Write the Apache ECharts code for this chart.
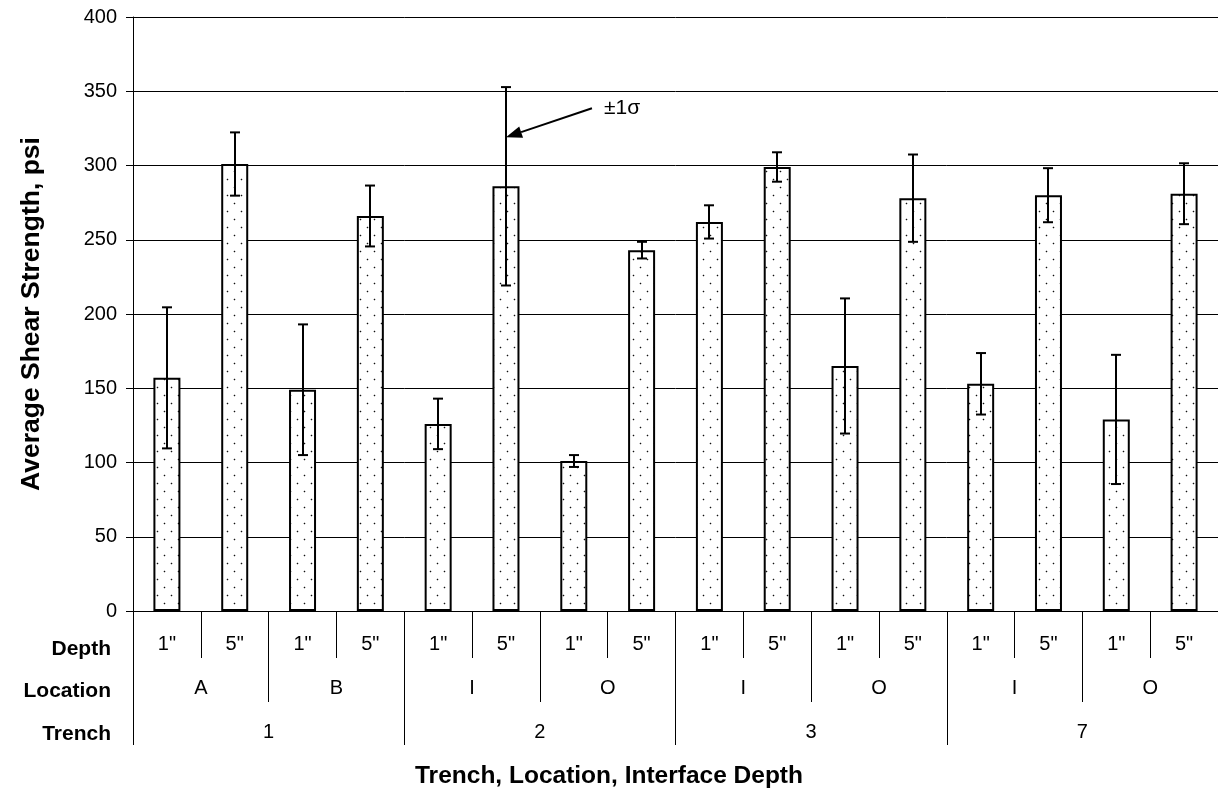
<!DOCTYPE html>
<html>
<head>
<meta charset="utf-8">
<script src="https://cdn.jsdelivr.net/npm/echarts@6/dist/echarts.min.js"></script>
<style>
html,body{margin:0;padding:0;background:#fff;}
#chart{width:1218px;height:794px;}
</style>
</head>
<body>
<div id="chart"></div>
<script>
// ---- data ----
const depths = ['1"','5"','1"','5"','1"','5"','1"','5"','1"','5"','1"','5"','1"','5"','1"','5"'];
const locations = ['A','B','I','O','I','O','I','O'];
const trenches = ['1','2','3','7'];
const means = [157, 301, 149, 266, 126, 286, 101, 243, 262, 299, 165, 278, 153, 280, 129, 281];
const sds = [47.5, 21.3, 44, 20.5, 17, 66.8, 4, 5.6, 11.2, 9.9, 45.5, 29.4, 20.7, 18.2, 43.5, 20.5];
const yTicks = {min: 0, max: 400, interval: 50};
const annotation = {text: '\u00b11\u03c3', index: 5, value: 319};

// ---- dotted fill pattern ----
const pc = document.createElement('canvas');
pc.width = 14; pc.height = 16;
const pctx = pc.getContext('2d');
pctx.fillStyle = '#fff';
pctx.fillRect(0, 0, 14, 16);
function dot(x, y) {
  pctx.fillStyle = '#c8c8c8';
  pctx.fillRect(x - 1, y, 1, 1); pctx.fillRect(x + 1, y, 1, 1);
  pctx.fillRect(x, y - 1, 1, 1); pctx.fillRect(x, y + 1, 1, 1);
  pctx.fillStyle = '#111';
  pctx.fillRect(x, y, 1, 1);
}
dot(3, 3);
dot(10, 11);

const FONT = '"Liberation Sans", Arial, sans-serif';
const errData = means.map((m, i) => [i, m - sds[i], m + sds[i]]);

const chart = echarts.init(document.getElementById('chart'));
const option = {
  animation: false,
  backgroundColor: '#fff',
  title: {
    text: 'Trench, Location, Interface Depth',
    left: 'center', top: 759,
    textStyle: {fontFamily: FONT, fontSize: 24.5, fontWeight: 'bold', color: '#000'}
  },
  grid: {left: 133, top: 17, width: 1088, height: 594},
  xAxis: [
    {
      type: 'category', data: depths, position: 'bottom',
      axisLine: {show: true, lineStyle: {color: '#000', width: 1}},
      axisTick: {show: true, interval: 0, length: 47, lineStyle: {color: '#000', width: 1}},
      axisLabel: {interval: 0, margin: 23, fontFamily: FONT, fontSize: 20, color: '#000'},
      splitLine: {show: false}
    },
    {
      type: 'category', data: locations, position: 'bottom',
      axisLine: {show: false},
      axisTick: {show: true, interval: 0, length: 91, lineStyle: {color: '#000', width: 1}},
      axisLabel: {interval: 0, margin: 67, fontFamily: FONT, fontSize: 20, color: '#000'},
      splitLine: {show: false}
    },
    {
      type: 'category', data: trenches, position: 'bottom',
      axisLine: {show: false},
      axisTick: {show: true, interval: 0, length: 134, lineStyle: {color: '#000', width: 1}},
      axisLabel: {interval: 0, margin: 111, fontFamily: FONT, fontSize: 20, color: '#000'},
      splitLine: {show: false}
    }
  ],
  yAxis: {
    type: 'value', min: yTicks.min, max: yTicks.max, interval: yTicks.interval,
    name: 'Average Shear Strength, psi', nameLocation: 'middle', nameGap: 88,
    nameTextStyle: {fontFamily: FONT, fontSize: 26.5, fontWeight: 'bold', color: '#000'},
    axisLine: {show: true, lineStyle: {color: '#000', width: 1}},
    axisTick: {show: true, length: 7, lineStyle: {color: '#000', width: 1}},
    axisLabel: {margin: 16, fontFamily: FONT, fontSize: 20, color: '#000'},
    splitLine: {show: true, lineStyle: {color: '#000', width: 1}}
  },
  series: [
    {
      type: 'bar', data: means, xAxisIndex: 0, barWidth: 27,
      itemStyle: {color: {image: pc, repeat: 'repeat'}, borderColor: '#000', borderWidth: 2},
      z: 2
    },
    {
      type: 'custom', xAxisIndex: 0, data: errData, z: 5,
      encode: {x: 0, y: [1, 2]},
      renderItem: function (params, api) {
        const i = api.value(0);
        const lo = api.coord([i, api.value(1)]);
        const hi = api.coord([i, api.value(2)]);
        const x = Math.round(lo[0]);
        const cap = 5;
        const st = {stroke: '#000', lineWidth: 2};
        return {
          type: 'group',
          children: [
            {type: 'line', shape: {x1: x, y1: hi[1], x2: x, y2: lo[1]}, style: st},
            {type: 'line', shape: {x1: x - cap, y1: hi[1], x2: x + cap, y2: hi[1]}, style: st},
            {type: 'line', shape: {x1: x - cap, y1: lo[1], x2: x + cap, y2: lo[1]}, style: st}
          ]
        };
      }
    }
  ]
};
chart.setOption(option);

// row labels and annotation arrow anchored on the axes
const rowY = chart.convertToPixel({yAxisIndex: 0}, 0);
const tip = chart.convertToPixel({xAxisIndex: 0, yAxisIndex: 0}, [annotation.index, annotation.value]);
const tail = [tip[0] + 86, tip[1] - 29];
const ang = Math.atan2(tip[1] - tail[1], tip[0] - tail[0]);
const hl = 16, hw = 6;
const bx = tip[0] - hl * Math.cos(ang), by = tip[1] - hl * Math.sin(ang);
const px = -Math.sin(ang) * hw, py = Math.cos(ang) * hw;
chart.setOption({
  graphic: [
    {type: 'text', right: 1218 - 111, top: rowY + 28, style: {text: 'Depth', font: 'bold 21px ' + FONT, fill: '#000', textAlign: 'right'}},
    {type: 'text', right: 1218 - 111, top: rowY + 70, style: {text: 'Location', font: 'bold 21px ' + FONT, fill: '#000', textAlign: 'right'}},
    {type: 'text', right: 1218 - 111, top: rowY + 113, style: {text: 'Trench', font: 'bold 21px ' + FONT, fill: '#000', textAlign: 'right'}},
    {type: 'line', shape: {x1: tail[0], y1: tail[1], x2: bx, y2: by}, style: {stroke: '#000', lineWidth: 2}, z: 10},
    {type: 'polygon', shape: {points: [[tip[0], tip[1]], [bx + px, by + py], [bx - px, by - py]]}, style: {fill: '#000'}, z: 10},
    {type: 'text', x: tail[0] + 12, y: tail[1], style: {text: annotation.text, font: '21px ' + FONT, fill: '#000', textVerticalAlign: 'middle'}, z: 10}
  ]
});
</script>
</body>
</html>
